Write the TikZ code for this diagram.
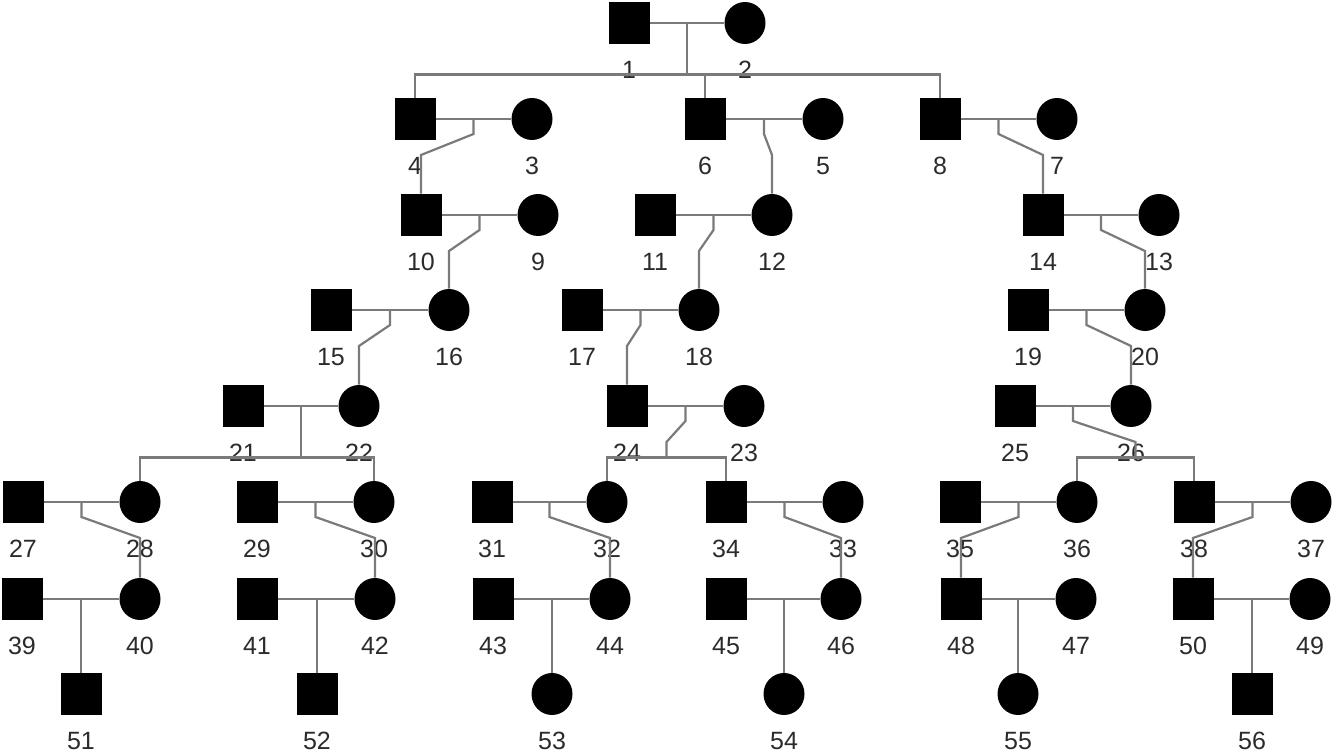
\documentclass[tikz,border=0pt]{standalone}
\usepackage{fontspec}
\setmainfont{Liberation Sans}
\usetikzlibrary{shapes.geometric, calc}
\definecolor{symbolfill}{HTML}{000000}
\definecolor{linkgray}{HTML}{7a7a7a}
\definecolor{idtext}{HTML}{2b2b2b}
\newcommand{\couple}[2]{\draw[link] (#1) -- (#2);}
\newcommand{\offspring}[3]{%
  \draw[link] let \p1=($(#1)!.5!(#2)$), \p2=(#3) in
    (\p1) -- ++(0,15) -- ($(\x2,\y1)+(0,36)$) -- (\p2);}
\tikzset{
  male/.style={fill=symbolfill, rectangle, minimum width=20.5pt, minimum height=21pt, inner sep=0pt},
  female/.style={fill=symbolfill, ellipse, minimum width=20.5pt, minimum height=21pt, inner sep=0pt},
  idlabel/.style={text=idtext, font=\fontsize{12.5}{14}\selectfont, inner sep=0pt},
  link/.style={draw=linkgray, line width=1.1pt}
}

\begin{document}
\begin{tikzpicture}[x=0.5pt, y=-0.5pt]
  \useasboundingbox (0,0) rectangle (1334,753);

  % individuals
  \foreach \n/\x/\y in {1/629/23, 4/415/119, 6/705/119, 8/940/119,
      10/421/215, 11/655/215, 14/1043/215, 15/331/310, 17/582/310, 19/1028/310,
      21/243/406, 24/627/406, 25/1015/406, 27/23/502, 29/257/502, 31/492/502,
      34/726/502, 35/960/502, 38/1194/502, 39/22/599, 41/257/599, 43/493/599,
      45/726/599, 48/961/599, 50/1193/599, 51/81/694, 52/317/694, 56/1252/694}
    \node[male] (p\n) at (\x,\y) {} node[idlabel] (l\n) at (\x,\y+47) {\n};
  \foreach \n/\x/\y in {2/745/23, 3/532/119, 5/823/119, 7/1057/119,
      9/538/215, 12/772/215, 13/1159/215, 16/449/310, 18/699/310, 20/1145/310,
      22/359/406, 23/744/406, 26/1131/406, 28/140/502, 30/374/502, 32/607/502,
      33/843/502, 36/1077/502, 37/1311/502, 40/140/599, 42/375/599, 44/610/599,
      46/841/599, 47/1076/599, 49/1310/599, 53/552/694, 54/784/694, 55/1018/694}
    \node[female] (p\n) at (\x,\y) {} node[idlabel] (l\n) at (\x,\y+47) {\n};

  % marriages
  \couple{p1}{p2} \couple{p4}{p3} \couple{p6}{p5} \couple{p8}{p7}
  \couple{p10}{p9} \couple{p11}{p12} \couple{p14}{p13}
  \couple{p15}{p16} \couple{p17}{p18} \couple{p19}{p20}
  \couple{p21}{p22} \couple{p24}{p23} \couple{p25}{p26}
  \couple{p27}{p28} \couple{p29}{p30} \couple{p31}{p32}
  \couple{p34}{p33} \couple{p35}{p36} \couple{p38}{p37}
  \couple{p39}{p40} \couple{p41}{p42} \couple{p43}{p44}
  \couple{p45}{p46} \couple{p48}{p47} \couple{p50}{p49}

  % sibships
  \draw[link] (p4.north) -- ++(0,-23) coordinate (s1) -| (p8.north);
  \draw[link] (p6.north) -- (p6.north |- s1);
  \draw[link] ($(p1)!.5!(p2)$) coordinate (m1) -- (m1 |- s1);
  \draw[link] (p28.north) -- ++(0,-23) coordinate (s21) -| (p30.north);
  \draw[link] ($(p21)!.5!(p22)$) coordinate (m21) -- (m21 |- s21);
  \draw[link] (p32.north) -- ++(0,-23) -| (p34.north);
  \coordinate (s24) at ($(p32.north)!.5!(p34.north)+(0,-23)$);
  \draw[link] (p36.north) -- ++(0,-23) -| (p38.north);
  \coordinate (s26) at ($(p36.north)!.5!(p38.north)+(0,-23)$);

  % single children
  \offspring{p4}{p3}{p10.north}
  \offspring{p6}{p5}{p12.north}
  \offspring{p8}{p7}{p14.north}
  \offspring{p10}{p9}{p16.north}
  \offspring{p11}{p12}{p18.north}
  \offspring{p14}{p13}{p20.north}
  \offspring{p15}{p16}{p22.north}
  \offspring{p17}{p18}{p24.north}
  \offspring{p19}{p20}{p26.north}
  \offspring{p24}{p23}{s24}
  \offspring{p25}{p26}{s26}
  \offspring{p27}{p28}{p40.north}
  \offspring{p29}{p30}{p42.north}
  \offspring{p31}{p32}{p44.north}
  \offspring{p34}{p33}{p46.north}
  \offspring{p35}{p36}{p48.north}
  \offspring{p38}{p37}{p50.north}
  \draw[link] (p51.north) -- (p51.north |- p39);
  \draw[link] (p52.north) -- (p52.north |- p41);
  \draw[link] (p53.north) -- (p53.north |- p43);
  \draw[link] (p54.north) -- (p54.north |- p45);
  \draw[link] (p55.north) -- (p55.north |- p48);
  \draw[link] (p56.north) -- (p56.north |- p50);
\end{tikzpicture}
\end{document}
